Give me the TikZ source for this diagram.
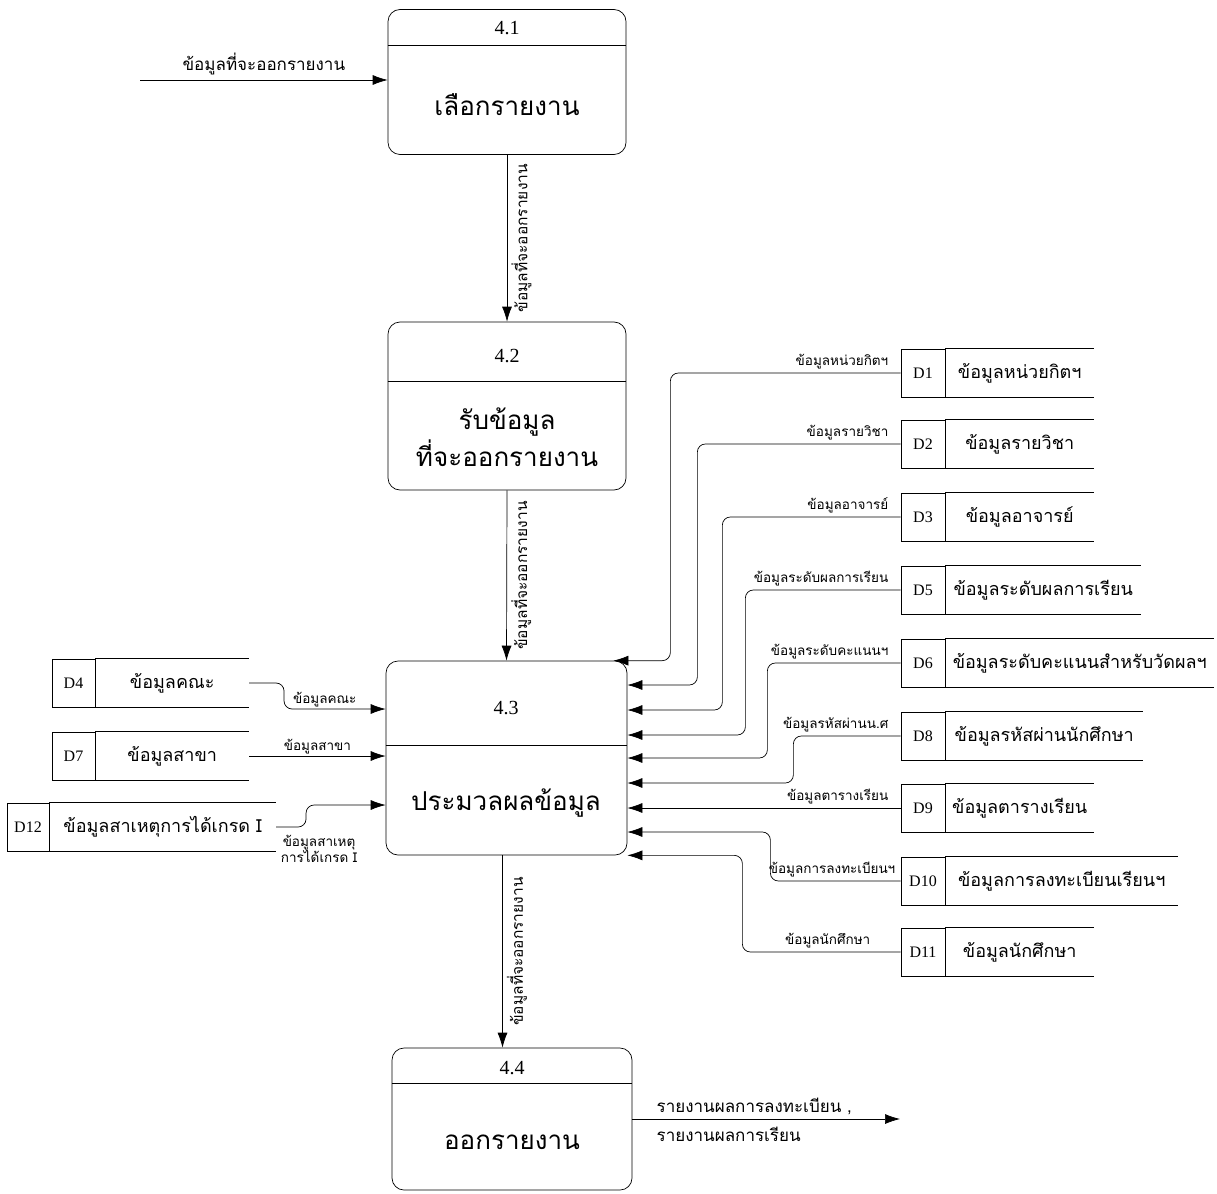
\documentclass[tikz,border=0pt]{standalone}
\usepackage{fontspec}
\setmainfont{Liberation Serif}
\newfontfamily\thaifont[Script=Thai]{Loma}
\usepackage{tikz}
\usetikzlibrary{positioning,arrows.meta}

\begin{document}
\begin{tikzpicture}[x=1pt, y=-1pt, line width=0.7pt,
	every node/.style={inner sep=1pt},
	proc/.style={draw, rounded corners=12pt, minimum width=238pt},
	pnum/.style={font=\fontsize{20}{22}\selectfont},
	ptxt/.style={font=\thaifont\fontsize{26}{37}\selectfont, align=center},
	storeid/.style={draw, minimum width=44pt, minimum height=48pt,
		inner sep=0pt, font=\fontsize{16}{18}\selectfont},
	storetxt/.style={minimum height=48pt, inner sep=0pt,
		font=\thaifont\fontsize{18}{21}\selectfont},
	flow/.style={-{Latex[length=15pt,width=10pt]}, rounded corners=8pt},
	flbl/.style={font=\thaifont\fontsize{13.5}{16}\selectfont, inner sep=2pt},
	rlbl/.style={flbl, anchor=south east, yshift=2pt},
	vlbl/.style={flbl, font=\thaifont\fontsize{15.5}{18}\selectfont,
		rotate=90, anchor=north, inner sep=4pt},
	iolbl/.style={font=\thaifont\fontsize{17}{20}\selectfont, inner sep=2pt}
]
\useasboundingbox[fill=white] (0,0) rectangle (1217,1193);

% processes
\node (p41) [proc, minimum height=145pt] at (507,82) {};
\node (n41) [pnum] at (507,28) {4.1};
\node (t41) [ptxt] at (507,105) {เลือกรายงาน};
\draw ([yshift=-36pt]p41.north west) -- ([yshift=-36pt]p41.north east);

\node (p42) [proc, minimum height=168pt] at (507,406) {};
\node (n42) [pnum] at (507,356) {4.2};
\node (t42) [ptxt] at (507,437) {รับข้อมูล\\ที่จะออกรายงาน};
\draw ([yshift=-60pt]p42.north west) -- ([yshift=-60pt]p42.north east);

\node (p43) [proc, minimum width=241pt, minimum height=194pt] at (506.5,758) {};
\node (n43) [pnum] at (506,708) {4.3};
\node (t43) [ptxt] at (506,803) {ประมวลผลข้อมูล};
\draw ([yshift=-85pt]p43.north west) -- ([yshift=-85pt]p43.north east);

\node (p44) [proc, minimum width=240pt, minimum height=142pt] at (512,1119) {};
\node (n44) [pnum] at (512,1068) {4.4};
\node (t44) [ptxt] at (512,1142) {ออกรายงาน};
\draw ([yshift=-36pt]p44.north west) -- ([yshift=-36pt]p44.north east);

% data stores, right
\node (d1) [storeid] at (923,373) {D1};
\node (s1) [storetxt, minimum width=148pt, right=0pt of d1] {ข้อมูลหน่วยกิตฯ};
\node (d2) [storeid] at (923,444) {D2};
\node (s2) [storetxt, minimum width=148pt, right=0pt of d2] {ข้อมูลรายวิชา};
\node (d3) [storeid] at (923,517) {D3};
\node (s3) [storetxt, minimum width=148pt, right=0pt of d3] {ข้อมูลอาจารย์};
\node (d5) [storeid] at (923,590) {D5};
\node (s5) [storetxt, minimum width=195pt, right=0pt of d5] {ข้อมูลระดับผลการเรียน};
\node (d6) [storeid] at (923,663) {D6};
\node (s6) [storetxt, minimum width=268pt, right=0pt of d6] {ข้อมูลระดับคะแนนสำหรับวัดผลฯ};
\node (d8) [storeid] at (923,736) {D8};
\node (s8) [storetxt, minimum width=197pt, right=0pt of d8] {ข้อมูลรหัสผ่านนักศึกษา};
\node (d9) [storeid] at (923,808) {D9};
\node (s9) [storetxt, minimum width=148pt, right=0pt of d9] {ข้อมูลตารางเรียน};
\node (d10) [storeid] at (923,881) {D10};
\node (s10) [storetxt, minimum width=232pt, right=0pt of d10] {ข้อมูลการลงทะเบียนเรียนฯ};
\node (d11) [storeid] at (923,952) {D11};
\node (s11) [storetxt, minimum width=148pt, right=0pt of d11] {ข้อมูลนักศึกษา};
\foreach \n in {1,2,3,5,6,8,9,10,11}
	\draw (d\n.north east) -- (s\n.north east) (d\n.south east) -- (s\n.south east);

% data stores, left
\node (d4) [storeid, minimum width=43pt] at (73.5,683) {D4};
\node (s4) [storetxt, minimum width=153pt, right=0pt of d4] {ข้อมูลคณะ};
\node (d7) [storeid, minimum width=43pt] at (73.5,756) {D7};
\node (s7) [storetxt, minimum width=153pt, right=0pt of d7] {ข้อมูลสาขา};
\node (d12) [storeid, minimum width=42pt] at (28,827) {D12};
\node (s12) [storetxt, minimum width=226pt, right=0pt of d12] {ข้อมูลสาเหตุการได้เกรด I};
\foreach \n in {4,7,12}
	\draw (d\n.north east) -- (s\n.north east) (d\n.south east) -- (s\n.south east);

% flows between processes
\coordinate (src) at (140,80);
\draw[flow] (src) -- node (fin) [iolbl, above, yshift=3pt] {ข้อมูลที่จะออกรายงาน} (src -| p41.west);
\draw[flow] (p41.south) -- node (f12v) [vlbl] {ข้อมูลที่จะออกรายงาน} (p42.north);
\draw[flow] (p42.south) -- node (f23v) [vlbl] {ข้อมูลที่จะออกรายงาน} (p43.north);
\draw[flow] ([xshift=-4pt]p43.south) -- node (f34v) [vlbl] {ข้อมูลที่จะออกรายงาน}
	([xshift=-4pt]p43.south |- p44.north);
\coordinate (sink) at (900,1119);
\draw[flow] (p44.east) -- (sink);
\node (o1) [iolbl, anchor=south west] at ([xshift=22pt,yshift=2pt]p44.east) {รายงานผลการลงทะเบียน ,};
\node (o2) [iolbl, anchor=north west] at ([xshift=22pt,yshift=-6pt]p44.east) {รายงานผลการเรียน};

% flows from left stores
\draw[flow] (s4.east) -- ++(35,0) |- node (f4) [flbl, pos=0.7, above] {ข้อมูลคณะ}
	([yshift=49pt]p43.west);
\draw[flow] (s7.east) -- node (f7) [flbl, above] {ข้อมูลสาขา} (s7.east -| p43.west);
\draw[flow] (s12.east) -- ++(30,0) |- ([yshift=-47pt]p43.west);
\node (f12) [flbl, align=center, anchor=north] at ([xshift=43pt,yshift=-6pt]s12.east)
	{ข้อมูลสาเหตุ\\การได้เกรด I};

% flows from right stores
\draw[flow] (d1.west) node (f1) [rlbl, xshift=-10pt] {ข้อมูลหน่วยกิตฯ}
	-| ([xshift=43pt]p43.north east) -- ([xshift=-14pt]p43.north east);
\draw[flow] (d2.west) node (f2) [rlbl, xshift=-10pt] {ข้อมูลรายวิชา}
	-| ([xshift=70pt,yshift=73pt]p43.east) -- ([yshift=73pt]p43.east);
\draw[flow] (d3.west) node (f3) [rlbl, xshift=-10pt] {ข้อมูลอาจารย์}
	-| ([xshift=95pt,yshift=48pt]p43.east) -- ([yshift=48pt]p43.east);
\draw[flow] (d5.west) node (f5) [rlbl, xshift=-10pt] {ข้อมูลระดับผลการเรียน}
	-| ([xshift=118pt,yshift=23pt]p43.east) -- ([yshift=23pt]p43.east);
\draw[flow] (d6.west) node (f6) [rlbl, xshift=-10pt] {ข้อมูลระดับคะแนนฯ}
	-| ([xshift=140pt]p43.east) -- (p43.east);
\draw[flow] (d8.west) node (f8) [rlbl, xshift=-10pt] {ข้อมูลรหัสผ่านน.ศ}
	-| ([xshift=166pt,yshift=-25pt]p43.east) -- ([yshift=-25pt]p43.east);
\draw[flow] (d9.west) node (f9) [rlbl, xshift=-10pt] {ข้อมูลตารางเรียน}
	-- (d9.west -| p43.east);
\draw[flow] (d10.west) node (f10) [rlbl, xshift=-3pt] {ข้อมูลการลงทะเบียนฯ}
	-| ([xshift=143pt,yshift=-74pt]p43.east) -- ([yshift=-74pt]p43.east);
\draw[flow] (d11.west) node (f11) [rlbl, xshift=-28pt] {ข้อมูลนักศึกษา}
	-| ([xshift=115pt]p43.south east) -- (p43.south east);
\end{tikzpicture}
\end{document}
